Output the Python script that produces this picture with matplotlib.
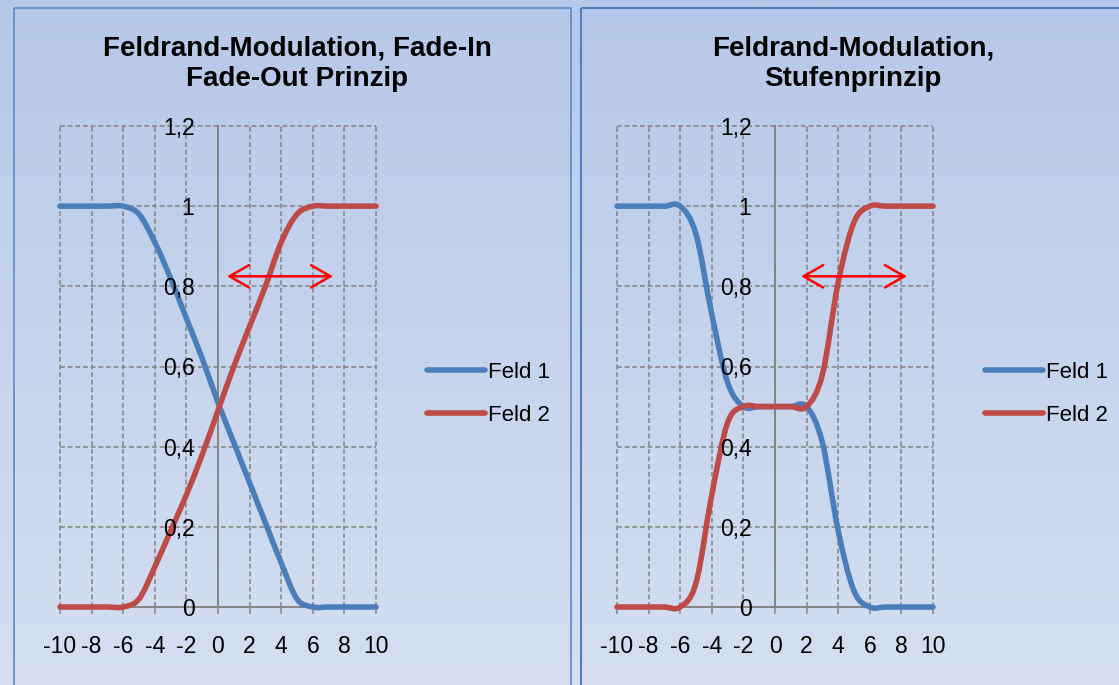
import numpy as np
import matplotlib.pyplot as plt
from matplotlib.path import Path
from matplotlib.patches import PathPatch, Rectangle
from matplotlib.lines import Line2D
from matplotlib.colors import LinearSegmentedColormap

plt.rcParams['font.family'] = ['Liberation Sans', 'DejaVu Sans']
plt.rcParams['axes.unicode_minus'] = False

W, H = 1119, 685

x_vals = list(range(-10, 11))

# Fade-In / Fade-Out
fade_feld1 = [1, 1, 1, 1, 1, 0.98, 0.91, 0.82, 0.72, 0.62, 0.51, 0.41, 0.31, 0.21, 0.11, 0.02, 0, 0, 0, 0, 0]
fade_feld2 = [0, 0, 0, 0, 0, 0.02, 0.1, 0.19, 0.28, 0.38, 0.49, 0.6, 0.7, 0.8, 0.91, 0.98, 1, 1, 1, 1, 1]

# Stufenprinzip
stufe_feld1 = [1, 1, 1, 1, 1, 0.93, 0.73, 0.56, 0.5, 0.5, 0.5, 0.5, 0.5, 0.41, 0.19, 0.04, 0, 0, 0, 0, 0]
stufe_feld2 = [0, 0, 0, 0, 0, 0.06, 0.28, 0.46, 0.5, 0.5, 0.5, 0.5, 0.5, 0.58, 0.81, 0.96, 1, 1, 1, 1, 1]

labels = ['Feld 1', 'Feld 2']
titles = ['Feldrand-Modulation, Fade-In\nFade-Out Prinzip', 'Feldrand-Modulation,\nStufenprinzip']
arrow_spans = [(0.57, 7.28), (1.65, 8.35)]
arrow_y = 0.825

BLUE = '#4a7ebb'
RED = '#be4b48'
GRAY = '#858585'


def smooth_path(xs, ys):
    # geglaettete Linie wie in Excel (Bezier durch die Punkte)
    p = np.column_stack([xs, ys]).astype(float)
    ext = np.vstack([p[0], p, p[-1]])
    verts = [p[0]]
    codes = [Path.MOVETO]
    for i in range(len(p) - 1):
        p0, p1, p2, p3 = ext[i], ext[i + 1], ext[i + 2], ext[i + 3]
        verts += [p1 + (p2 - p0) / 6, p2 - (p3 - p1) / 6, p2]
        codes += [Path.CURVE4] * 3
    return Path(verts, codes)


def fmt(v, pos):
    return f'{round(v, 1):g}'.replace('.', ',')


fig = plt.figure(figsize=(W / 100, H / 100), dpi=100)

# Hintergrund mit Verlauf
bg = fig.add_axes([0, 0, 1, 1], zorder=-1)
grad = np.linspace(0, 1, 256)[:, None]
cmap = LinearSegmentedColormap.from_list('bg', ['#b6c8e9', '#d5dff1'])
bg.imshow(grad, aspect='auto', cmap=cmap, extent=[0, W, H, 0])
bg.set_xlim(0, W)
bg.set_ylim(H, 0)
bg.axis('off')
bg.add_patch(Rectangle((13.5, 8), 557, 700, fill=False, ec='#5b8ac6', lw=1.2))
bg.add_patch(Rectangle((581, 8), 600, 700, fill=False, ec='#4f81bd', lw=1.5))

panels = [
    (60, 297, fade_feld1, fade_feld2, 427),
    (617, 853, stufe_feld1, stufe_feld2, 985),
]

for k, (left_px, title_x, f1, f2, leg_x) in enumerate(panels):
    ax = fig.add_axes([left_px / W, (H - 607) / H, 316 / W, 481 / H])
    ax.set_facecolor('none')
    ax.set_xlim(-10, 10)
    ax.set_ylim(0, 1.2)
    xt = list(range(-10, 11, 2))
    yt = np.arange(0, 1.21, 0.2)
    ax.set_xticks(xt)
    ax.set_yticks(yt)
    ax.yaxis.set_major_formatter(fmt)

    for s in ['top', 'right']:
        ax.spines[s].set_visible(False)
    ax.spines['left'].set_position(('data', 0))
    ax.spines['bottom'].set_position(('data', 0))
    for s in ['left', 'bottom']:
        ax.spines[s].set_color(GRAY)
        ax.spines[s].set_linewidth(1.4)
        ax.spines[s].set_zorder(1.2)

    # Gitternetz gestrichelt, unter den Kurven
    for t in xt:
        ax.axvline(t, color=GRAY, lw=1.15, ls=(0, (3, 1.8)), zorder=1, clip_on=False)
    for t in yt:
        ax.axhline(t, color=GRAY, lw=1.15, ls=(0, (3, 1.8)), zorder=1, clip_on=False)

    ax.tick_params(axis='x', direction='out', length=5, width=1.1, color=GRAY,
                   labelsize=16.5, pad=15.5)
    ax.tick_params(axis='y', length=0, labelsize=16.5, pad=17)
    # Beschriftung der y-Achse liegt ueber den Kurven
    ax.yaxis.set_zorder(5)

    for ys, c in [(f1, BLUE), (f2, RED)]:
        ax.add_patch(PathPatch(smooth_path(x_vals, ys), fill=False, ec=c, lw=4,
                               capstyle='round', joinstyle='round', clip_on=False, zorder=3))

    a0, a1 = arrow_spans[k]
    ax.annotate('', xy=(a1, arrow_y), xytext=(a0, arrow_y),
                arrowprops=dict(arrowstyle='<->,head_length=1.4,head_width=0.8',
                                color='red', lw=1.8, shrinkA=0, shrinkB=0),
                zorder=4, annotation_clip=False)

    handles = [Line2D([], [], color=BLUE, lw=4, solid_capstyle='round'),
               Line2D([], [], color=RED, lw=4, solid_capstyle='round')]
    ax.legend(handles, labels, loc='upper left', bbox_to_anchor=(leg_x / W, 1 - 362 / H),
              bbox_transform=fig.transFigure, frameon=False, borderpad=0, borderaxespad=0,
              handlelength=2.6, handletextpad=0.15, labelspacing=0.97, fontsize=16)

    fig.text(title_x / W, 1 - 36 / H, titles[k], ha='center', va='top', fontsize=20,
             fontweight='bold', linespacing=1.22)

fig.savefig('out.png', dpi=100)
